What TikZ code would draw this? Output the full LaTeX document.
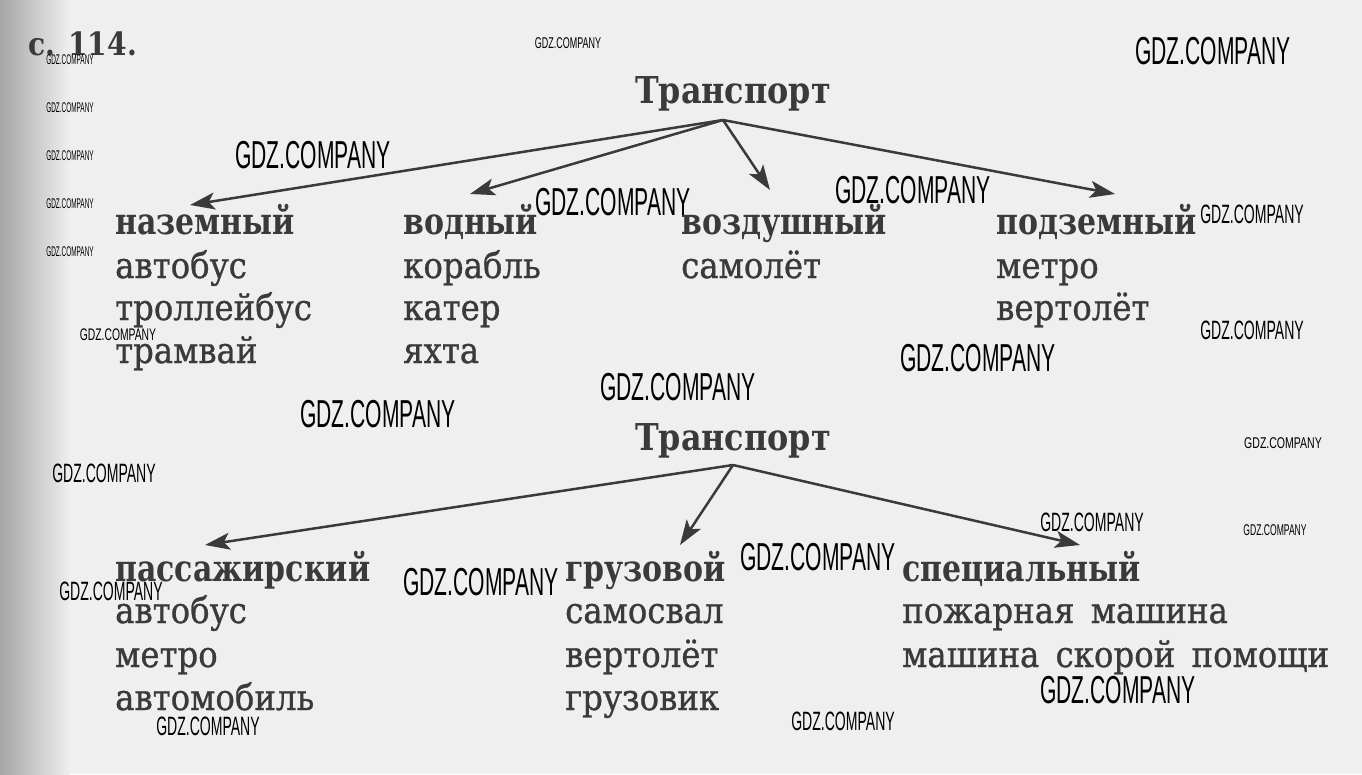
\documentclass[tikz,border=0pt]{standalone}
\usepackage{fontspec}
\setmainfont{DejaVu Serif}
\newfontfamily\itemfont{DejaVu Serif}[FakeBold=0.9]
\newfontfamily\wmfont{Liberation Sans}
\usetikzlibrary{arrows.meta}
\definecolor{ink}{HTML}{3A3A3A}
\definecolor{paper}{HTML}{EFEFEF}
\newcommand{\HD}[1]{\scalebox{0.81}[1]{#1}}
\newcommand{\IT}[1]{\scalebox{0.9}[1]{\spaceskip=0.5em #1}}
\newcommand{\RT}[1]{\scalebox{0.86}[1]{#1}}
\newcommand{\WM}[2]{\scalebox{#1}[#2]{GDZ.COMPANY}}
\tikzset{
  hdr/.style={anchor=base west, inner sep=0pt, text=ink, font=\fontsize{37}{37}\selectfont\bfseries},
  itm/.style={anchor=base west, inner sep=0pt, text=ink, font=\fontsize{36}{36}\itemfont},
  root/.style={anchor=base, inner sep=0pt, text=ink, font=\fontsize{37}{37}\selectfont\bfseries},
  arr/.style={draw=ink, line width=2.5pt, -{Stealth[length=25pt, width=17pt, inset=6pt]}},
  wm/.style={inner sep=0pt, text=black, font=\fontsize{39}{39}\wmfont},
}
\begin{document}
\begin{tikzpicture}[x=1pt, y=-1pt]
\useasboundingbox (0,0) rectangle (1362,774);
\fill[paper] (0,0) rectangle (1362,774);
\shade[left color=gray!70, right color=paper] (0,0) rectangle (70,774);

\node[hdr, font=\fontsize{32}{32}\selectfont\bfseries] (num) at (28,55) {\scalebox{0.88}[1]{с. 114.}};

% first tree
\node[root] (t1) at (733,103) {\RT{Транспорт}};
\coordinate (t1s) at (723,120);
\node[hdr] (h11) at (115,234) {\HD{наземный}};
\node[hdr] (h12) at (403,234) {\HD{водный}};
\node[hdr] (h13) at (681,234) {\HD{воздушный}};
\node[hdr] (h14) at (996,234) {\HD{подземный}};
\coordinate (a11) at (190,205);
\coordinate (a12) at (470,194);
\coordinate (a13) at (770,190);
\coordinate (a14) at (1115,194);
\draw[arr] (t1s) -- (a11);
\draw[arr] (t1s) -- (a12);
\draw[arr] (t1s) -- (a13);
\draw[arr] (t1s) -- (a14);

\node[itm] (i111) at (115,278) {\IT{автобус}};
\node[itm] (i112) at (115,320) {\IT{троллейбус}};
\node[itm] (i113) at (115,363) {\IT{трамвай}};
\node[itm] (i121) at (403,278) {\IT{корабль}};
\node[itm] (i122) at (403,320) {\IT{катер}};
\node[itm] (i123) at (403,363) {\IT{яхта}};
\node[itm] (i131) at (681,278) {\IT{самолёт}};
\node[itm] (i141) at (996,278) {\IT{метро}};
\node[itm] (i142) at (996,320) {\IT{вертолёт}};

% second tree
\node[root] (t2) at (733,450) {\RT{Транспорт}};
\coordinate (t2s) at (733,465);
\node[hdr] (h21) at (115,581) {\HD{пассажирский}};
\node[hdr] (h22) at (565,581) {\HD{грузовой}};
\node[hdr] (h23) at (902,581) {\HD{специальный}};
\coordinate (a21) at (205,545);
\coordinate (a22) at (680,545);
\coordinate (a23) at (1080,545);
\draw[arr] (t2s) -- (a21);
\draw[arr] (t2s) -- (a22);
\draw[arr] (t2s) -- (a23);

\node[itm] (i211) at (115,623) {\IT{автобус}};
\node[itm] (i212) at (115,667) {\IT{метро}};
\node[itm] (i213) at (115,710) {\IT{автомобиль}};
\node[itm] (i221) at (565,623) {\IT{самосвал}};
\node[itm] (i222) at (565,667) {\IT{вертолёт}};
\node[itm] (i223) at (565,710) {\IT{грузовик}};
\node[itm] (i231) at (902,623) {\IT{пожарная машина}};
\node[itm] (i232) at (902,667) {\IT{машина скорой помощи}};

% watermarks
\node[wm] (w1) at (568,43) {\WM{0.23}{0.4}};
\node[wm] (w2) at (1213,51) {\WM{0.54}{1}};
\node[wm] (w3) at (70,60) {\WM{0.165}{0.36}};
\node[wm] (w4) at (70,108) {\WM{0.165}{0.36}};
\node[wm] (w5) at (70,156) {\WM{0.165}{0.36}};
\node[wm] (w6) at (70,204) {\WM{0.165}{0.36}};
\node[wm] (w7) at (70,252) {\WM{0.165}{0.36}};
\node[wm] (w8) at (313,155) {\WM{0.54}{1}};
\node[wm] (w9) at (613,202) {\WM{0.54}{1}};
\node[wm] (w10) at (913,190) {\WM{0.54}{1}};
\node[wm] (w11) at (1252,214) {\WM{0.36}{0.68}};
\node[wm] (w12) at (118,335) {\WM{0.265}{0.43}};
\node[wm] (w13) at (1252,330) {\WM{0.36}{0.68}};
\node[wm] (w14) at (978,358) {\WM{0.54}{1}};
\node[wm] (w15) at (678,387) {\WM{0.54}{1}};
\node[wm] (w16) at (378,414) {\WM{0.54}{1}};
\node[wm] (w17) at (104,473) {\WM{0.36}{0.68}};
\node[wm] (w18) at (1283,443) {\WM{0.27}{0.4}};
\node[wm] (w19) at (1092,522) {\WM{0.36}{0.68}};
\node[wm] (w20) at (1275,530) {\WM{0.22}{0.4}};
\node[wm] (w21) at (818,557) {\WM{0.54}{1}};
\node[wm] (w22) at (111,591) {\WM{0.36}{0.68}};
\node[wm] (w23) at (481,582) {\WM{0.54}{1}};
\node[wm] (w24) at (1118,690) {\WM{0.54}{1}};
\node[wm] (w25) at (208,726) {\WM{0.36}{0.68}};
\node[wm] (w26) at (843,721) {\WM{0.36}{0.68}};
\end{tikzpicture}
\end{document}
